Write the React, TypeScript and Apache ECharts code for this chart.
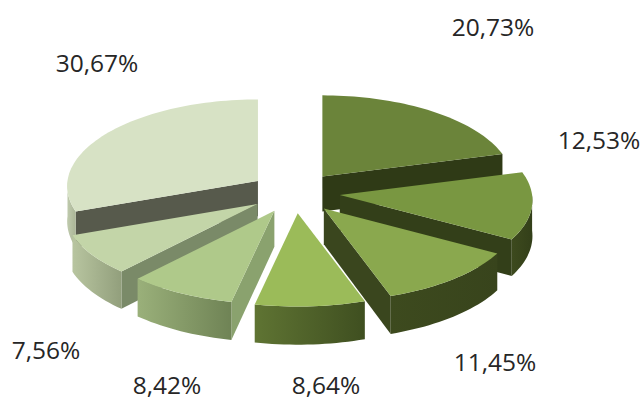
import React, { useEffect, useRef } from "react";
import * as echarts from "echarts";

const shares = [20.73, 12.53, 11.45, 8.64, 8.42, 7.56, 30.67];
const topColors = ["#6b843a", "#799741", "#8aa84e", "#9bbb59", "#afc98a", "#c3d5a8", "#d7e2c5"];
const innerColors = ["#2f3a16", "#333f19", "#3a461e", "#44551f", "#8aa26e", "#7a8a68", "#575a4c"];
const outerFrom = ["#6b843a", "#3d4a1e", "#3d4a1e", "#5f7433", "#9ab07a", "#b8c5a0", "#c0cbae"];
const outerTo = ["#2f3a16", "#333f19", "#38441c", "#3f4f20", "#6f8355", "#929f7c", "#aab596"];
const labelAt: [number, number][] = [[493, 26], [599, 139], [495, 361], [326, 384], [167, 384], [46, 349], [97, 62]];

const CX = 295, CY = 192.5, RX = 192, RY = 87, EXPLODE = 0.235, DEPTH = 35.5, PX = 0.06, PY = 0.05;

function project(ox: number, oy: number, s: number, c: number, down = 0): number[] {
  const v = oy + c;
  return [
    CX + (ox + s * (1 + PX * v)) * RX,
    CY + v * RY * (1 + PY * v) + down * DEPTH * (1 + 0.06 * v),
  ];
}
const total = shares.reduce((a, b) => a + b, 0);
const spans = shares.map((_, i) => {
  const start = shares.slice(0, i).reduce((a, b) => a + b, 0) / total * Math.PI * 2;
  return [start, start + shares[i] / total * Math.PI * 2];
});
function sliceGeometry(i: number) {
  const [a, b] = spans[i];
  const m = (a + b) / 2;
  const ox = EXPLODE * Math.sin(m), oy = -EXPLODE * Math.cos(m);
  const at = (t: number, down = 0) => project(ox, oy, Math.sin(t), -Math.cos(t), down);
  const apex = (down = 0) => project(ox, oy, 0, 0, down);
  const arc = (s: number, e: number, down = 0) => {
    const n = Math.max(2, Math.ceil((e - s) / 0.03));
    return Array.from({ length: n + 1 }, (_, k) => at(s + ((e - s) * k) / n, down));
  };
  return { a, b, at, apex, arc };
}
const drawOrder = shares
  .map((_, i) => i)
  .sort((p, q) => -Math.cos((spans[p][0] + spans[p][1]) / 2) + Math.cos((spans[q][0] + spans[q][1]) / 2));

function renderItem(params: any) {
  const i = drawOrder[params.dataIndex];
  const g = sliceGeometry(i);
  const children: any[] = [];
  const poly = (points: number[][], fill: any) =>
    children.push({ type: "polygon", shape: { points }, style: { fill, stroke: "none" } });
  if (g.a > Math.PI) poly([g.apex(), g.at(g.a), g.at(g.a, 1), g.apex(1)], innerColors[i]);
  if (g.b < Math.PI) poly([g.apex(), g.at(g.b), g.at(g.b, 1), g.apex(1)], innerColors[i]);
  const s = Math.max(g.a, Math.PI / 2), e = Math.min(g.b, (Math.PI * 3) / 2);
  if (e > s) {
    const fill = new echarts.graphic.LinearGradient(0, 0, 1, 0, [
      { offset: 0, color: outerFrom[i] },
      { offset: 1, color: outerTo[i] },
    ]);
    poly([...g.arc(s, e), ...g.arc(s, e, 1).reverse()], fill);
  }
  poly([g.apex(), ...g.arc(g.a, g.b)], topColors[i]);
  children.push({
    type: "text",
    style: {
      x: labelAt[i][0],
      y: labelAt[i][1],
      text: shares[i].toFixed(2).replace(".", ",") + "%",
      fill: "#262626",
      font: '24.5px "Open Sans"',
      align: "center",
      verticalAlign: "middle",
    },
  });
  return { type: "group", children };
}

export default function App() {
  const ref = useRef<HTMLDivElement>(null);
  useEffect(() => {
    const chart = echarts.init(ref.current!, undefined, { renderer: "svg" });
    chart.setOption({
      animation: false,
      backgroundColor: "#ffffff",
      series: [{ type: "custom", coordinateSystem: "none", renderItem, data: drawOrder.map((i) => shares[i]), silent: true }],
    });
    return () => chart.dispose();
  }, []);
  return <div ref={ref} style={{ position: "fixed", left: 0, top: 0, width: 643, height: 401 }} />;
}
